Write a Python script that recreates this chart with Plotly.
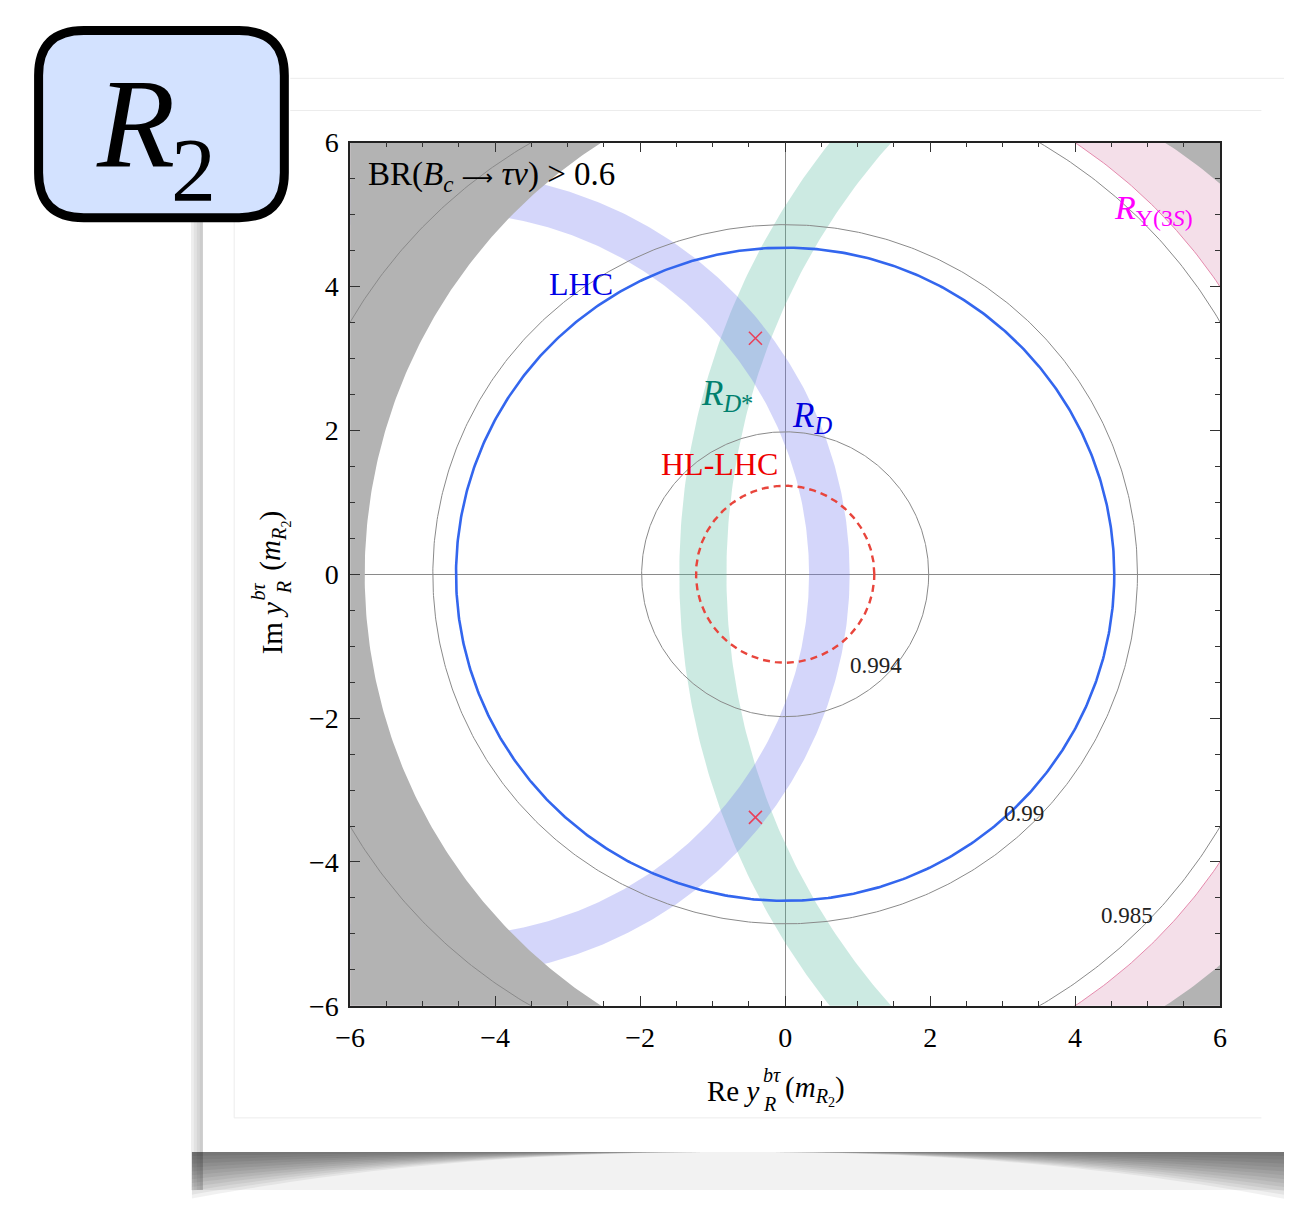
import numpy as np
import plotly.graph_objects as go

W, H = 1291, 1206

# ---------------- data ----------------
contour_levels = ["0.994", "0.99", "0.985"]
contour_radii = [1.98, 4.86, 6.95]
contour_label_re = [1.25, 3.30, 4.71]
contour_label_im = [-1.27, -3.33, -4.74]

lhc_radius = 4.54
hllhc_radius = 1.23

rd_center = -4.70
rd_radii = [5.03, 5.59]
rdstar_center = 8.25
rdstar_radii = [9.06, 9.71]
upsilon_center = 0.0
upsilon_radii = [7.21, 9.60]
br_center = 1.35
br_radius = 7.15

best_fit_re = [-0.41, -0.41]
best_fit_im = [3.28, -3.38]

axis_ticks = [-6, -4, -2, 0, 2, 4, 6]
axis_ticktext = [("\u2212" + str(abs(v))) if v < 0 else str(v) for v in axis_ticks]

SERIF = "Liberation Serif"

# ---------------- helpers ----------------
def px(x):
    return x / W


def py(y):
    return 1 - y / H


def circle(cx, r, n=721):
    t = np.linspace(0, 2 * np.pi, n)
    return cx + r * np.cos(t), r * np.sin(t)


def ring(cx, r_in, r_out, n=721):
    t = np.linspace(0, 2 * np.pi, n)
    xo, yo = cx + r_out * np.cos(t), r_out * np.sin(t)
    xi, yi = cx + r_in * np.cos(t[::-1]), r_in * np.sin(t[::-1])
    return np.concatenate([xo, xi]), np.concatenate([yo, yi])


def outside(cx, r, big=20, n=721):
    sx = [-big, -big, big, big, -big]
    sy = [-big, big, big, -big, -big]
    t = np.linspace(0, 2 * np.pi, n)
    return (np.concatenate([sx, cx + r * np.cos(t)]),
            np.concatenate([sy, r * np.sin(t)]))


fig = go.Figure()

# R_Upsilon(3S) band
x, y = ring(upsilon_center, upsilon_radii[0], upsilon_radii[1])
fig.add_trace(go.Scatter(x=x, y=y, mode="lines", fill="toself",
                         fillcolor="#f4dfe9", line=dict(width=0), hoverinfo="skip"))
x, y = circle(upsilon_center, upsilon_radii[0])
fig.add_trace(go.Scatter(x=x, y=y, mode="lines",
                         line=dict(color="#e58aad", width=1), hoverinfo="skip"))

# R_D* band
x, y = ring(rdstar_center, rdstar_radii[0], rdstar_radii[1])
fig.add_trace(go.Scatter(x=x, y=y, mode="lines", fill="toself",
                         fillcolor="rgba(85,185,158,0.30)", line=dict(width=0),
                         hoverinfo="skip"))
# R_D band
x, y = ring(rd_center, rd_radii[0], rd_radii[1])
fig.add_trace(go.Scatter(x=x, y=y, mode="lines", fill="toself",
                         fillcolor="rgba(112,118,238,0.30)", line=dict(width=0),
                         hoverinfo="skip"))

# excluded BR(Bc -> tau nu) > 0.6 region
x, y = outside(br_center, br_radius)
fig.add_trace(go.Scatter(x=x, y=y, mode="lines", fill="toself",
                         fillcolor="#b3b3b3", line=dict(width=0), hoverinfo="skip"))

# contour circles
for r in contour_radii:
    x, y = circle(0, r)
    fig.add_trace(go.Scatter(x=x, y=y, mode="lines",
                             line=dict(color="#8a8a8a", width=1), hoverinfo="skip"))

# LHC circle
x, y = circle(0, lhc_radius)
fig.add_trace(go.Scatter(x=x, y=y, mode="lines",
                         line=dict(color="#3366ee", width=2.6), hoverinfo="skip"))
# HL-LHC circle
x, y = circle(0, hllhc_radius)
fig.add_trace(go.Scatter(x=x, y=y, mode="lines",
                         line=dict(color="#e8453c", width=2.4, dash="7px,5px"),
                         hoverinfo="skip"))

# best-fit points
fig.add_trace(go.Scatter(x=best_fit_re, y=best_fit_im, mode="markers",
                         marker=dict(symbol="x-thin", size=13,
                                     line=dict(width=1.6, color="#e8415a")),
                         hoverinfo="skip"))

# ---------------- in-plot labels ----------------
ann = []
for lev, lx, ly in zip(contour_levels, contour_label_re, contour_label_im):
    ann.append(dict(x=lx, y=ly, xref="x", yref="y", text=lev, showarrow=False,
                    font=dict(family=SERIF, size=23, color="#222")))

ARROW = "<span style=\"font-family:'DejaVu Sans';font-size:22px\">\u27f6</span>"
ann += [
    dict(x=-5.78, y=5.53, xref="x", yref="y", xanchor="left",
         text="BR(<i>B</i><sub><i>c</i></sub> " + ARROW + " <i>\u03c4\u03bd</i>) > 0.6",
         showarrow=False, font=dict(family=SERIF, size=33, color="black")),
    dict(x=-2.81, y=4.04, xref="x", yref="y", text="LHC", showarrow=False,
         font=dict(family=SERIF, size=32, color="#0000e6")),
    dict(x=-0.80, y=2.48, xref="x", yref="y",
         text="<i>R</i><sub><i>D</i>*</sub>", showarrow=False,
         font=dict(family=SERIF, size=35, color="#00806e")),
    dict(x=0.37, y=2.18, xref="x", yref="y",
         text="<i>R</i><sub><i>D</i></sub>", showarrow=False,
         font=dict(family=SERIF, size=35, color="#0000dd")),
    dict(x=-0.90, y=1.53, xref="x", yref="y", text="HL-LHC", showarrow=False,
         font=dict(family=SERIF, size=32, color="#ee0000")),
    dict(x=5.08, y=5.07, xref="x", yref="y",
         text="<i>R</i><sub>\u03a5(3<i>S</i>)</sub>", showarrow=False,
         font=dict(family=SERIF, size=34, color="#ff00ff")),
]

# ---------------- axis titles (pieces) ----------------
TS = 29
SS = 20
ann += [
    dict(x=px(759), y=py(1104), xref="paper", yref="paper", xanchor="right",
         yanchor="middle", text="Re <i>y</i>", showarrow=False,
         font=dict(family=SERIF, size=TS, color="black")),
    dict(x=px(759), y=py(1088), xref="paper", yref="paper", xanchor="left",
         yanchor="middle", text="<i>b\u03c4</i>", showarrow=False,
         font=dict(family=SERIF, size=SS, color="black")),
    dict(x=px(759), y=py(1118), xref="paper", yref="paper", xanchor="left",
         yanchor="middle", text="<i>R</i>", showarrow=False,
         font=dict(family=SERIF, size=SS, color="black")),
    dict(x=px(781), y=py(1104), xref="paper", yref="paper", xanchor="left",
         yanchor="middle", text="(<i>m</i><sub><i>R</i><sub>2</sub></sub>)",
         showarrow=False, font=dict(family=SERIF, size=TS, color="black")),
    # y title, rotated
    dict(x=px(261), y=py(630), xref="paper", yref="paper", textangle=-90,
         xanchor="center", yanchor="middle", text="Im <i>y</i>", showarrow=False,
         font=dict(family=SERIF, size=TS, color="black")),
    dict(x=px(247), y=py(592), xref="paper", yref="paper", textangle=-90,
         xanchor="center", yanchor="middle", text="<i>b\u03c4</i>", showarrow=False,
         font=dict(family=SERIF, size=SS, color="black")),
    dict(x=px(274), y=py(588), xref="paper", yref="paper", textangle=-90,
         xanchor="center", yanchor="middle", text="<i>R</i>", showarrow=False,
         font=dict(family=SERIF, size=SS, color="black")),
    dict(x=px(263), y=py(540), xref="paper", yref="paper", textangle=-90,
         xanchor="center", yanchor="middle",
         text="(<i>m</i><sub><i>R</i><sub>2</sub></sub>)", showarrow=False,
         font=dict(family=SERIF, size=TS, color="black")),
]

# ---------------- R2 badge ----------------
ann += [
    dict(x=px(123), y=py(112), xref="paper", yref="paper", xanchor="center",
         yanchor="middle", text="<i>R</i>", showarrow=False,
         font=dict(family=SERIF, size=128, color="black")),
    dict(x=px(182), y=py(160), xref="paper", yref="paper", xanchor="center",
         yanchor="middle", text="2", showarrow=False,
         font=dict(family=SERIF, size=90, color="black")),
]

# ---------------- decoration shapes ----------------
shapes = []
# faint page frame lines
for (x0, y0, x1, y1) in [(280, 65, 1291, 65), (280, 98, 1268, 98),
                         (223, 98, 223, 1132), (223, 1132, 1268, 1132)]:
    shapes.append(dict(type="line", xref="paper", yref="paper",
                       x0=px(x0), y0=py(y0), x1=px(x1), y1=py(y1),
                       line=dict(color="#ececec", width=1), layer="below"))
# left shadow strip
for (x0, c) in [(179, "#eeeeee"), (182, "#e2e2e2"), (185, "#d6d6d6"), (188, "#cccccc")]:
    shapes.append(dict(type="rect", xref="paper", yref="paper",
                       x0=px(x0), x1=px(191), y0=py(60), y1=py(1206),
                       fillcolor=c, line=dict(width=0), layer="below"))
# bottom shadow (layered: thick and dark at the sides, thin in the centre)
xs = np.linspace(180, 1291, 80)
u = np.abs((xs - 735) / 556.0)
prof = np.clip(u, 0, 1) ** 2.2
for i in range(12):
    d = 4 + 4 * i
    pts = " ".join(f"L {px(xx)},{py(1167 + d * p)}" for xx, p in zip(xs[::-1], prof[::-1]))
    path = f"M {px(180)},{py(1167)} L {px(1291)},{py(1167)} {pts} Z"
    shapes.append(dict(type="path", xref="paper", yref="paper", path=path,
                       fillcolor="rgba(0,0,0,0.055)", line=dict(width=0), layer="below"))
# faint uniform haze below the card
shapes.append(dict(type="rect", xref="paper", yref="paper",
                   x0=px(180), x1=px(1291), y0=py(1206), y1=py(1167),
                   fillcolor="rgba(0,0,0,0.05)", line=dict(width=0), layer="below"))

# R2 rounded box
x0, x1, y0, y1, rr = 24, 274, 16, 208, 46
bp = (f"M {px(x0 + rr)},{py(y0)} L {px(x1 - rr)},{py(y0)} "
      f"Q {px(x1)},{py(y0)} {px(x1)},{py(y0 + rr)} "
      f"L {px(x1)},{py(y1 - rr)} Q {px(x1)},{py(y1)} {px(x1 - rr)},{py(y1)} "
      f"L {px(x0 + rr)},{py(y1)} Q {px(x0)},{py(y1)} {px(x0)},{py(y1 - rr)} "
      f"L {px(x0)},{py(y0 + rr)} Q {px(x0)},{py(y0)} {px(x0 + rr)},{py(y0)} Z")
shapes.append(dict(type="path", xref="paper", yref="paper", path=bp,
                   fillcolor="#d3e2ff", line=dict(color="black", width=9),
                   layer="above"))

axis_common = dict(
    range=[-6, 6], tickvals=axis_ticks, ticktext=axis_ticktext,
    ticks="inside", ticklen=10, tickwidth=1.2, tickcolor="#333",
    minor=dict(dtick=0.5, ticks="inside", ticklen=5, tickwidth=1, tickcolor="#333"),
    showline=True, linecolor="#222", linewidth=1.6, mirror="allticks",
    showgrid=False, zeroline=True, zerolinecolor="#8a8a8a", zerolinewidth=1,
    tickfont=dict(family=SERIF, size=28, color="black"),
    fixedrange=True,
)

fig.update_layout(
    width=W, height=H, autosize=False,
    margin=dict(l=0, r=0, t=0, b=0, pad=0),
    paper_bgcolor="white", plot_bgcolor="white",
    showlegend=False,
    xaxis=dict(domain=[px(341), px(1226)], ticklabelstandoff=6, **axis_common),
    yaxis=dict(domain=[py(1017), py(131)], ticklabelstandoff=4, **axis_common),
    annotations=ann,
    shapes=shapes,
)

fig.write_html("out.html")
